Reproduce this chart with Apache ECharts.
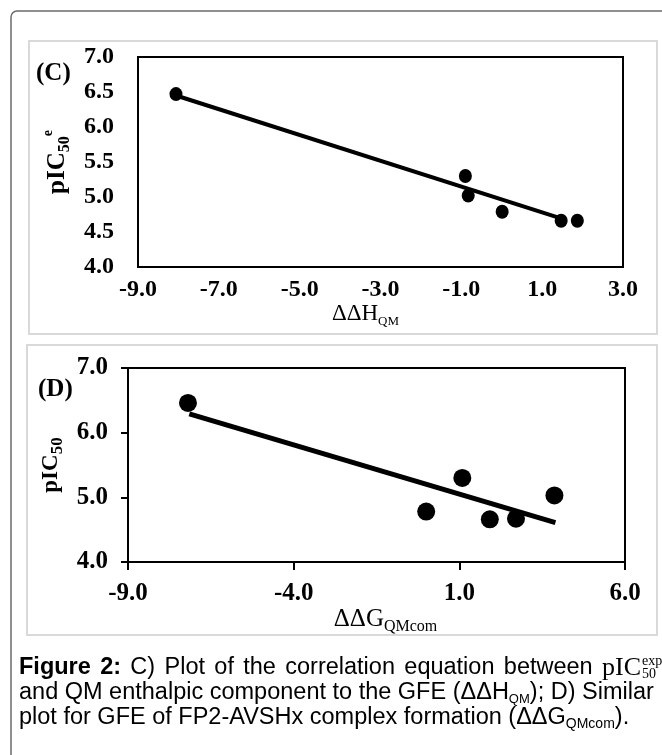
<!DOCTYPE html>
<html>
<head>
<meta charset="utf-8">
<script src="https://cdn.jsdelivr.net/npm/echarts@6/dist/echarts.min.js"></script>
<style>
html,body{margin:0;padding:0;background:#fff;}
#chart{width:662px;height:755px;}
</style>
</head>
<body>
<div id="chart"></div>
<script>
// Panel C: pIC50 vs ΔΔH_QM
const xC = [-8.06, -0.90, -0.83, 0.01, 1.47, 1.87];
const yC = [6.47, 5.30, 5.02, 4.79, 4.66, 4.66];
const fitCx = [-8.06, 1.60];
const fitCy = [6.45, 4.67];
const ticksCx = [-9, 3, 2];   // min, max, step
const ticksCy = [4, 7, 0.5];

// Panel D: pIC50 vs ΔΔG_QMcom
const xD = [-7.19, 0.00, 1.09, 1.92, 2.71, 3.87];
const yD = [6.46, 4.78, 5.30, 4.66, 4.67, 5.03];
const fitDx = [-7.15, 3.90];
const fitDy = [6.29, 4.61];
const ticksDx = [-9, 6, 5];
const ticksDy = [4, 7, 1];

// Caption text
const cap1Bold = ['Figure', '2:'];
const cap1Words = ['C)', 'Plot', 'of', 'the', 'correlation', 'equation', 'between'];
const cap2 = ['and QM enthalpic component to the GFE (ΔΔH', 'QM', '); D) Similar'];
const cap3 = ['plot for GFE of FP2-AVSHx complex formation (ΔΔG', 'QMcom', ').'];

const serif = "'Liberation Serif','Times New Roman',serif";
const sans = "'Liberation Sans',Arial,sans-serif";

function pairs(xs, ys){ return xs.map((x,i)=>[x, ys[i]]); }

const chart = echarts.init(document.getElementById('chart'), null, {renderer:'canvas'});

const labelFmt = v => v.toFixed(1);
const capFs = 23.5;

// justified first caption line
const ctx = document.createElement('canvas').getContext('2d');
function measure(t, font){ ctx.font = font; return ctx.measureText(t).width; }
const fontB = 'bold ' + capFs + 'px ' + sans;
const fontN = capFs + 'px ' + sans;
const fontP = '26px ' + serif;
const line1 = cap1Bold.map(w=>({t:w, f:fontB})).concat(cap1Words.map(w=>({t:w, f:fontN}))).concat([{t:'pIC', f:fontP}]);
const L1 = 19, R1 = 641;
const widths = line1.map(o=>measure(o.t, o.f));
const total = widths.reduce((a,b)=>a+b, 0);
const gap = (R1 - L1 - total) / (line1.length - 1);
const line1Graphics = [];
let cx = L1;
line1.forEach((o,i)=>{
  line1Graphics.push({type:'text', x:cx, y:668, style:{text:o.t, font:o.f, fill:'#000', textAlign:'left', textVerticalAlign:'middle'}});
  cx += widths[i] + gap;
});

const option = {
  animation: false,
  backgroundColor: '#fff',
  grid: [
    {left:138, top:57, width:485, height:210, show:true, borderColor:'#000', borderWidth:2, backgroundColor:'transparent'},
    {left:128, top:368, width:497, height:194, show:true, borderColor:'#000', borderWidth:2, backgroundColor:'transparent'}
  ],
  xAxis: [
    {type:'value', gridIndex:0, min:ticksCx[0], max:ticksCx[1], interval:ticksCx[2],
     axisLine:{show:true, onZero:false, lineStyle:{color:'#000', width:2}},
     axisTick:{show:false}, splitLine:{show:false},
     axisLabel:{formatter:labelFmt, color:'#000', fontFamily:serif, fontWeight:'bold', fontSize:24, margin:11},
     name:'{a|ΔΔH}{b|QM}', nameLocation:'middle', nameGap:32,
     nameTextStyle:{padding:[0,30,0,0], rich:{
       a:{fontFamily:serif, fontSize:23, color:'#000', verticalAlign:'middle', lineHeight:28},
       b:{fontFamily:serif, fontSize:13, color:'#000', verticalAlign:'bottom', lineHeight:13}}}
    },
    {type:'value', gridIndex:1, min:ticksDx[0], max:ticksDx[1], interval:ticksDx[2],
     axisLine:{show:true, onZero:false, lineStyle:{color:'#000', width:2}},
     axisTick:{show:true, inside:false, length:8, lineStyle:{color:'#000', width:2}}, splitLine:{show:false},
     axisLabel:{formatter:labelFmt, color:'#000', fontFamily:serif, fontWeight:'bold', fontSize:25, margin:19},
     name:'{a|ΔΔG}{b|QMcom}', nameLocation:'middle', nameGap:18,
     nameTextStyle:{padding:[0,0,0,18], rich:{
       a:{fontFamily:serif, fontSize:25, color:'#000', verticalAlign:'middle', lineHeight:30},
       b:{fontFamily:serif, fontSize:16, color:'#000', verticalAlign:'bottom', lineHeight:16}}}
    }
  ],
  yAxis: [
    {type:'value', gridIndex:0, min:ticksCy[0], max:ticksCy[1], interval:ticksCy[2],
     axisLine:{show:true, onZero:false, lineStyle:{color:'#000', width:2}},
     axisTick:{show:false}, splitLine:{show:false},
     axisLabel:{formatter:labelFmt, color:'#000', fontFamily:serif, fontWeight:'bold', fontSize:24, margin:24},
     name:'{a|pIC}{b|50}{c|e}', nameLocation:'middle', nameGap:62, nameRotate:90,
     nameTextStyle:{rich:{
       a:{fontFamily:serif, fontWeight:'bold', fontSize:25, color:'#000', verticalAlign:'middle', lineHeight:32},
       b:{fontFamily:serif, fontWeight:'bold', fontSize:16, color:'#000', verticalAlign:'bottom', lineHeight:16},
       c:{fontFamily:serif, fontWeight:'bold', fontSize:14, color:'#000', verticalAlign:'top', lineHeight:14}}}
    },
    {type:'value', gridIndex:1, min:ticksDy[0], max:ticksDy[1], interval:ticksDy[2],
     axisLine:{show:true, onZero:false, lineStyle:{color:'#000', width:2}},
     axisTick:{show:true, inside:false, length:7, lineStyle:{color:'#000', width:2}}, splitLine:{show:false},
     axisLabel:{formatter:labelFmt, color:'#000', fontFamily:serif, fontWeight:'bold', fontSize:25, margin:20},
     name:'{a|pIC}{b|50}', nameLocation:'middle', nameGap:56, nameRotate:90,
     nameTextStyle:{rich:{
       a:{fontFamily:serif, fontWeight:'bold', fontSize:23, color:'#000', verticalAlign:'middle', lineHeight:30},
       b:{fontFamily:serif, fontWeight:'bold', fontSize:17, color:'#000', verticalAlign:'bottom', lineHeight:17}}}
    }
  ],
  series: [
    {type:'line', xAxisIndex:0, yAxisIndex:0, data:pairs(fitCx, fitCy), showSymbol:false, symbol:'none',
     lineStyle:{color:'#000', width:4}, z:2},
    {type:'scatter', xAxisIndex:0, yAxisIndex:0, data:pairs(xC, yC), symbol:'circle', symbolSize:[13,14],
     itemStyle:{color:'#000', opacity:1}, z:3},
    {type:'line', xAxisIndex:1, yAxisIndex:1, data:pairs(fitDx, fitDy), showSymbol:false, symbol:'none',
     lineStyle:{color:'#000', width:5}, z:2},
    {type:'scatter', xAxisIndex:1, yAxisIndex:1, data:pairs(xD, yD), symbol:'circle', symbolSize:18,
     itemStyle:{color:'#000', opacity:1}, z:3}
  ],
  graphic: [
    {type:'rect', shape:{x:11, y:11, width:700, height:800, r:6}, style:{fill:'none', stroke:'#6b6b6b', lineWidth:1.5}, z:-10},
    {type:'rect', shape:{x:29, y:41, width:628, height:293}, style:{fill:'none', stroke:'#d9d9d9', lineWidth:2}, z:-10},
    {type:'rect', shape:{x:27, y:345, width:630, height:290}, style:{fill:'none', stroke:'#d9d9d9', lineWidth:2}, z:-10},
    {type:'text', left:36, top:61, style:{text:'(C)', font:"bold 25px "+serif, fill:'#000'}},
    {type:'text', left:38, top:377, style:{text:'(D)', font:"bold 25px "+serif, fill:'#000'}}
  ].concat(line1Graphics).concat([
    {type:'text', x:R1 + 1, y:668, style:{
      text:'{s|exp}\n{s|50}', textAlign:'left', textVerticalAlign:'middle',
      rich:{s:{fontFamily:serif, fontSize:14, fill:'#000', lineHeight:13}}}},
    {type:'text', x:19, y:693, style:{
      text:'{n|' + cap2[0] + '}{s|' + cap2[1] + '}{n|' + cap2[2] + '}',
      textAlign:'left', textVerticalAlign:'middle',
      rich:{
        n:{fontFamily:sans, fontSize:capFs, fill:'#000', lineHeight:26, verticalAlign:'middle'},
        s:{fontFamily:sans, fontSize:13, fill:'#000', lineHeight:12, verticalAlign:'bottom'}
      }}},
    {type:'text', x:19, y:718, style:{
      text:'{n|' + cap3[0] + '}{s|' + cap3[1] + '}{n|' + cap3[2] + '}',
      textAlign:'left', textVerticalAlign:'middle',
      rich:{
        n:{fontFamily:sans, fontSize:capFs, fill:'#000', lineHeight:26, verticalAlign:'middle'},
        s:{fontFamily:sans, fontSize:14, fill:'#000', lineHeight:12, verticalAlign:'bottom'}
      }}}
  ])
};
chart.setOption(option);
</script>
</body>
</html>
